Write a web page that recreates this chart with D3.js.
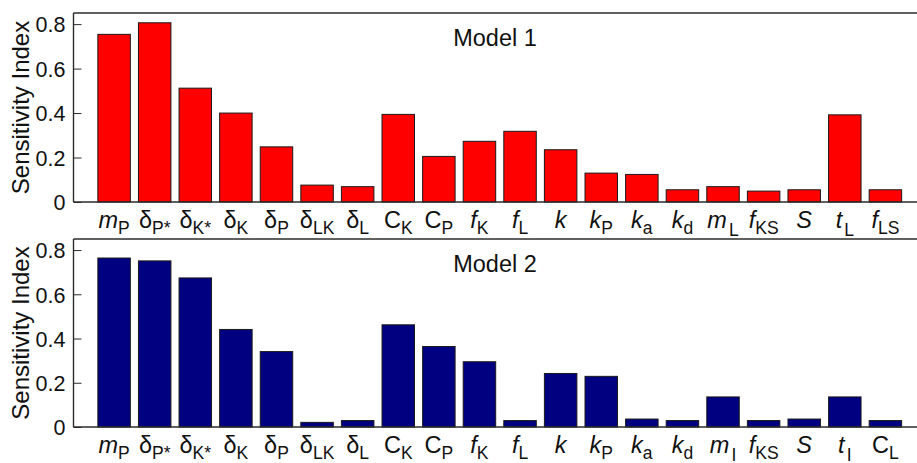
<!DOCTYPE html>
<html>
<head>
<meta charset="utf-8">
<script src="https://cdn.jsdelivr.net/npm/d3@7"></script>
<style>
html,body{margin:0;padding:0;background:#fff;}
svg{display:block;font-family:"Liberation Sans",Arial,Helvetica,sans-serif;}
</style>
</head>
<body>
<svg id="chart" width="917" height="463"></svg>
<script>
// ---- data ----
const labelsModel1 = ["~m_P","δ_P*","δ_K*","δ_K","δ_P","δ_LK","δ_L","C_K","C_P","~f_K","~f_L","~k","~k_P","~k_a","~k_d","~m__L","~f_KS","~S","~t__L","~f_LS"];
const labelsModel2 = ["~m_P","δ_P*","δ_K*","δ_K","δ_P","δ_LK","δ_L","C_K","C_P","~f_K","~f_L","~k","~k_P","~k_a","~k_d","~m__I","~f_KS","~S","~t__I","C_L"];
const valuesModel1 = [0.754,0.806,0.512,0.400,0.248,0.076,0.069,0.394,0.205,0.273,0.318,0.235,0.130,0.124,0.055,0.069,0.049,0.055,0.392,0.055];
const valuesModel2 = [0.764,0.751,0.674,0.441,0.341,0.021,0.029,0.462,0.364,0.295,0.029,0.242,0.229,0.036,0.029,0.136,0.029,0.036,0.136,0.029];
const yTicks = [0,0.2,0.4,0.6,0.8];
const yTickLabels = ["0","0.2","0.4","0.6","0.8"];
const panelTitles = ["Model 1","Model 2"];
const barColors = ["#ff0000","#000080"];
const yLabel = "Sensitivity Index";

// ---- layout ----
const svg = d3.select("#chart");
const left = 73.5, right = 926;
const panels = [
  {top:13, bottom:202, labels:labelsModel1, values:valuesModel1, title:panelTitles[0], color:barColors[0]},
  {top:239, bottom:427, labels:labelsModel2, values:valuesModel2, title:panelTitles[1], color:barColors[1]}
];
const x = d3.scaleLinear().domain([0, 21]).range([left, right]);
const step = x(1) - x(0);
const barW = step * 0.8;
const axisColor = "#2b2b2b";

panels.forEach(p => {
  const y = d3.scaleLinear().domain([0, 0.85]).range([p.bottom, p.top]);
  const g = svg.append("g");

  // bars
  g.selectAll("rect.bar").data(p.values).enter().append("rect")
    .attr("class","bar")
    .attr("x",(d,i)=>x(i+1)-barW/2)
    .attr("y",d=>y(d))
    .attr("width",barW)
    .attr("height",d=>y(0)-y(d))
    .attr("fill",p.color)
    .attr("stroke","#1a1a1a")
    .attr("stroke-width",1);

  // left axis
  const yAxisL = d3.axisLeft(y).tickValues(yTicks).tickFormat((d,i)=>yTickLabels[i]).tickSizeInner(-8).tickSizeOuter(0).tickPadding(9);
  const ga = g.append("g").attr("transform",`translate(${left},0)`).call(yAxisL);
  ga.select(".domain").remove();
  ga.selectAll("line").attr("stroke",axisColor).attr("stroke-width",1);
  ga.selectAll("text").attr("font-size",21.5).attr("fill","#111").attr("x",-8).attr("dy","0.36em");

  // right axis ticks
  const yAxisR = d3.axisRight(y).tickValues(yTicks).tickFormat("").tickSizeInner(-9).tickSizeOuter(0);
  const gr = g.append("g").attr("transform",`translate(${right},0)`).call(yAxisR);
  gr.select(".domain").remove();
  gr.selectAll("line").attr("stroke",axisColor);

  // box
  g.append("line").attr("x1",left).attr("x2",right).attr("y1",p.top).attr("y2",p.top).attr("stroke",axisColor).attr("stroke-width",1.4);
  g.append("line").attr("x1",left).attr("x2",right).attr("y1",y(0)).attr("y2",y(0)).attr("stroke",axisColor).attr("stroke-width",1.4);
  g.append("line").attr("x1",left).attr("x2",left).attr("y1",p.top).attr("y2",y(0)).attr("stroke",axisColor).attr("stroke-width",1.4);

  // title
  g.append("text").attr("x",495).attr("y",p.top+33).attr("text-anchor","middle")
    .attr("font-size",23.5).attr("fill","#111").text(p.title);

  // y label
  g.append("text").attr("transform",`translate(29,${(p.top+p.bottom)/2}) rotate(-90)`)
    .attr("text-anchor","middle").attr("font-size",24).attr("fill","#111").text(yLabel);

  // x tick labels
  p.labels.forEach((lab,i)=>{
    let italic = lab.startsWith("~");
    let s = italic ? lab.slice(1) : lab;
    let low = s.includes("__");
    let parts = low ? s.split("__") : s.split("_");
    const t = g.append("text").attr("x",x(i+1)).attr("y",y(0)+25.5)
      .attr("text-anchor","middle").attr("fill","#111");
    t.append("tspan").attr("font-size",23.5).attr("font-style",italic?"italic":"normal").text(parts[0]);
    if (parts[1]) {
      const sh = low ? 8 : 6;
      t.append("tspan").attr("font-size",17.5).attr("font-style","normal")
        .attr("dx", low?2:0).attr("dy",sh).text(parts[1]);
    }
  });
});
</script>
</body>
</html>
